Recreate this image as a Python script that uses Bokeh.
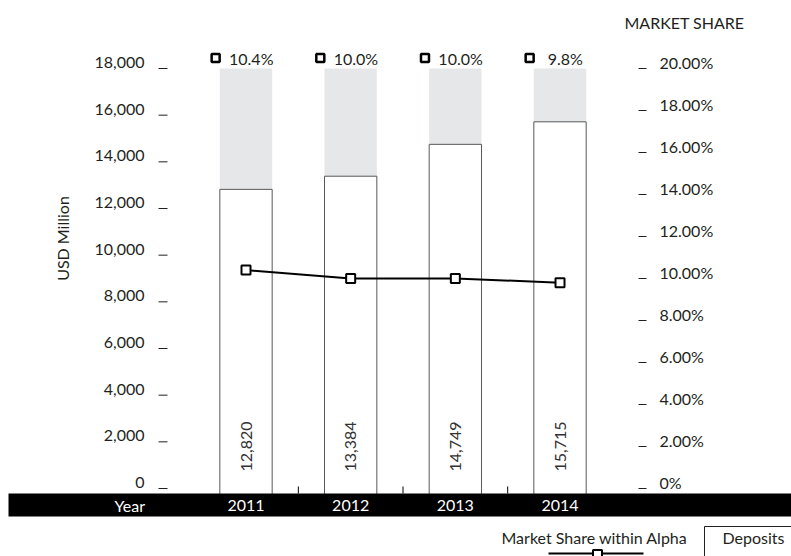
import math
from bokeh.plotting import figure
from bokeh.models import Range1d, ColumnDataSource
from bokeh.transform import dodge
from bokeh.core.properties import value
from bokeh.embed import file_html
from bokeh.resources import INLINE

# ---------------- data ----------------
years = ["2011", "2012", "2013", "2014"]
deposits = [12820, 13384, 14749, 15715]          # USD Million
market_share = [10.4, 10.0, 10.0, 9.8]           # %
left_ticks = [0, 2000, 4000, 6000, 8000, 10000, 12000, 14000, 16000, 18000]
right_ticks = [0, 2, 4, 6, 8, 10, 12, 14, 16, 18, 20]
Y_MAX = 18000
SHARE_MAX = 20

FONT = "Lato"
INK = "#231f20"

# ---------------- geometry (canvas pixels) ----------------
W, H = 791, 556
ZERO_PX = 488                     # canvas y of value 0
S = 420.0 / Y_MAX                 # px per USD million
PXU = 104.67                      # px per category
CAT0_PX = 245.5                   # canvas x of first category centre
X_START = -CAT0_PX / PXU
X_END = X_START + W / PXU
Y_START = -(H - ZERO_PX) / S
Y_END = ZERO_PX / S


def px_x(px):
    return X_START + px / PXU


def px_y(py):
    return (ZERO_PX - py) / S


xs = list(range(len(years)))
src = ColumnDataSource(dict(
    x=xs, year=years, dep=deposits, share=market_share,
    dep_txt=[f"{v:,}" for v in deposits],
    share_txt=[f"{v:.1f}%" for v in market_share],
    full=[Y_MAX] * len(years),
))

p = figure(width=W, height=H, output_backend="svg", toolbar_location=None,
           x_range=Range1d(X_START, X_END), y_range=Range1d(Y_START, Y_END),
           min_border=0, x_axis_location=None, y_axis_location=None)
p.outline_line_color = None
p.xgrid.visible = False
p.ygrid.visible = False
p.background_fill_color = "white"
p.border_fill_color = "white"
p.extra_y_ranges = {"share": Range1d(Y_START * SHARE_MAX / Y_MAX, Y_END * SHARE_MAX / Y_MAX)}

BAR_BOTTOM = px_y(500)

# bars
p.vbar(x="x", top="full", bottom=BAR_BOTTOM, width=0.5, source=src,
       fill_color="#e6e7e8", line_color=None)
p.vbar(x="x", top="dep", bottom=BAR_BOTTOM, width=0.5, source=src,
       fill_color="white", line_color="#58595b", line_width=1)

# value labels inside bars
p.text(x="x", y=0, text="dep_txt", source=src, angle=math.pi / 2, y_offset=-17,
       text_align="left", text_baseline="middle", text_font=value(FONT),
       text_font_size="16px", text_color="#333333")

# black band for the year axis
p.quad(left=px_x(8), right=px_x(W + 10), top=px_y(493), bottom=px_y(516),
       fill_color="black", line_color=None)

# small separators between categories
p.segment(x0=[i + 0.5 for i in xs[:-1]], x1=[i + 0.5 for i in xs[:-1]],
          y0=px_y(493), y1=px_y(486), line_color="black", line_width=1)

# year labels
p.text(x="x", y=px_y(505), text="year", source=src, text_align="center",
       text_baseline="middle", text_font=value(FONT), text_font_size="16px",
       text_color="white")
p.text(x=[px_x(114)], y=[px_y(505)], text=["Year"], text_align="left",
       text_baseline="middle", text_font=value(FONT), text_font_size="16px",
       text_color="white")

# left axis (USD Million)
p.segment(x0=px_x(158), x1=px_x(167), y0=left_ticks, y1=left_ticks,
          line_color=INK, line_width=1)
p.text(x=px_x(144), y=left_ticks, text=[f"{t:,}" for t in left_ticks],
       y_offset=-6, text_align="right", text_baseline="middle",
       text_font=value(FONT), text_font_size="16px", text_color=INK)

# right axis (market share)
p.segment(x0=px_x(638), x1=px_x(646), y0=right_ticks, y1=right_ticks,
          y_range_name="share", line_color=INK, line_width=1)
p.text(x=px_x(659), y=right_ticks,
       text=[(f"{t:.2f}%" if t else "0%") for t in right_ticks],
       y_range_name="share", y_offset=-6, text_align="left", text_baseline="middle",
       text_font=value(FONT), text_font_size="16px", text_color=INK)

# market share line
p.line(x="x", y="share", source=src, y_range_name="share",
       line_color="black", line_width=2)
p.scatter(x="x", y="share", source=src, y_range_name="share", marker="square",
          size=9, fill_color="white", line_color="black", line_width=2)

# top row of share values
TOP_Y = px_y(57.5)
p.scatter(x=dodge("x", -0.29), y=TOP_Y, source=src, marker="square", size=8,
          fill_color="white", line_color="black", line_width=2.5)
p.text(x=dodge("x", 0.05), y=TOP_Y, text="share_txt", source=src,
       text_align="center", text_baseline="middle", text_font=value(FONT),
       text_font_size="16px", text_color=INK)

# titles
p.text(x=[px_x(624)], y=[px_y(22)], text=["MARKET SHARE"], text_align="left",
       text_baseline="middle", text_font=value(FONT), text_font_size="16px",
       text_color=INK)
p.text(x=[px_x(62)], y=[px_y(238)], text=["USD Million"], angle=math.pi / 2,
       text_align="center", text_baseline="middle", text_font=value(FONT),
       text_font_size="16px", text_color=INK)

# legend
p.text(x=[px_x(501)], y=[px_y(537)], text=["Market Share within Alpha"],
       text_align="left", text_baseline="middle", text_font=value(FONT),
       text_font_size="16px", text_color=INK)
p.line(x=[px_x(548), px_x(643)], y=[px_y(553), px_y(553)], line_color="black", line_width=2)
p.scatter(x=[px_x(597)], y=[px_y(554)], marker="square", size=9,
          fill_color="white", line_color="black", line_width=2)
p.quad(left=px_x(704), right=px_x(W + 20), top=px_y(526), bottom=px_y(H + 20),
       fill_color=None, line_color=INK, line_width=1)
p.text(x=[px_x(722)], y=[px_y(537)], text=["Deposits"], text_align="left",
       text_baseline="middle", text_font=value(FONT), text_font_size="16px",
       text_color=INK)

open("out.html", "w").write(file_html(p, INLINE))
